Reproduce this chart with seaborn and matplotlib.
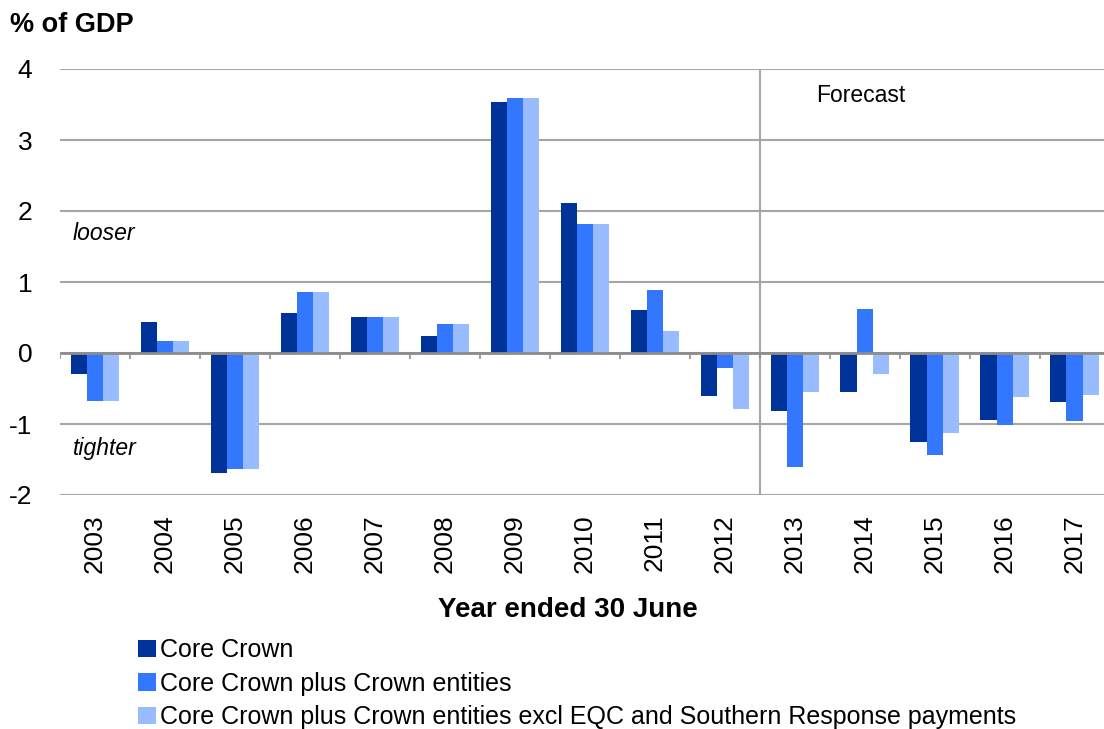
import numpy as np
import pandas as pd
import seaborn as sns
import matplotlib.pyplot as plt
from matplotlib.patches import Patch

years = [str(y) for y in range(2003, 2018)]
series = [
    "Core Crown",
    "Core Crown plus Crown entities",
    "Core Crown plus Crown entities excl EQC and Southern Response payments",
]
core_crown = [-0.30, 0.43, -1.69, 0.57, 0.51, 0.24, 3.53, 2.11, 0.60, -0.60,
              -0.81, -0.55, -1.25, -0.94, -0.69]
crown_entities = [-0.67, 0.17, -1.64, 0.86, 0.51, 0.41, 3.59, 1.82, 0.89, -0.21,
                  -1.60, 0.62, -1.43, -1.02, -0.96]
excl_eqc = [-0.67, 0.17, -1.64, 0.86, 0.51, 0.41, 3.59, 1.82, 0.31, -0.79,
            -0.55, -0.29, -1.13, -0.62, -0.59]
colors = ["#003399", "#3377FF", "#99BBFF"]

df = pd.DataFrame({
    "year": years * 3,
    "series": np.repeat(series, len(years)),
    "value": core_crown + crown_entities + excl_eqc,
})

sns.set_style("white")
plt.rcParams["font.family"] = ["Liberation Sans", "DejaVu Sans"]
plt.rcParams["axes.unicode_minus"] = False
plt.rcParams["text.color"] = "black"
plt.rcParams["xtick.color"] = "black"
plt.rcParams["ytick.color"] = "black"

fig = plt.figure(figsize=(11.04, 7.29), dpi=100)
ax = fig.add_axes([60 / 1104, 234 / 729, 1 - 60 / 1104 + 0.005, 426 / 729])

sns.barplot(data=df, x="year", y="value", hue="series", hue_order=series,
            palette=colors, saturation=1, width=0.69, ax=ax, legend=False,
            edgecolor="none")

ax.set_xlim(-0.5, len(years) - 0.5)
ax.set_ylim(-2, 4)
ax.set_yticks(range(-2, 5))
ax.yaxis.grid(True, color="#a6a6a6", linewidth=1.5)
ax.set_axisbelow(True)
for s in ax.spines.values():
    s.set_visible(False)

# zero line with boundary ticks
ax.axhline(0, color="#8c8c8c", linewidth=2, zorder=3)
bounds = np.arange(len(years) + 1) - 0.5
ax.vlines(bounds, -0.08, 0, color="#8c8c8c", linewidth=1.2, zorder=3)
# forecast divider
ax.axvline(9.5, color="#a6a6a6", linewidth=1.5, zorder=1)

ax.tick_params(axis="both", length=0, labelsize=19)
ax.tick_params(axis="x", rotation=90, pad=14)
ax.tick_params(axis="y", pad=20)
ax.set_xlabel("")
ax.set_ylabel("")

ax.text(0.012, 0.615, "looser", fontsize=16.5, style="italic", va="center",
        transform=ax.transAxes)
ax.text(0.012, 0.11, "tighter", fontsize=16.5, style="italic", va="center",
        transform=ax.transAxes)
ax.text(10.3, 3.63, "Forecast", fontsize=16.5, va="center")

fig.text(10 / 1104, 1 - 25 / 729, "% of GDP", fontsize=19.5, fontweight="bold", va="center")
fig.text(568 / 1104, 1 - 610 / 729, "Year ended 30 June", fontsize=20,
         fontweight="bold", ha="center", va="center")

handles = [Patch(facecolor=c, edgecolor="none") for c in colors]
fig.legend(handles, series, loc="upper left", bbox_to_anchor=(138 / 1104, 1 - 638 / 729),
           frameon=False, fontsize=18, handlelength=0.7, handleheight=0.7,
           handletextpad=0.2, labelspacing=0.38, borderpad=0, borderaxespad=0)

fig.savefig("out.png", dpi=100)
